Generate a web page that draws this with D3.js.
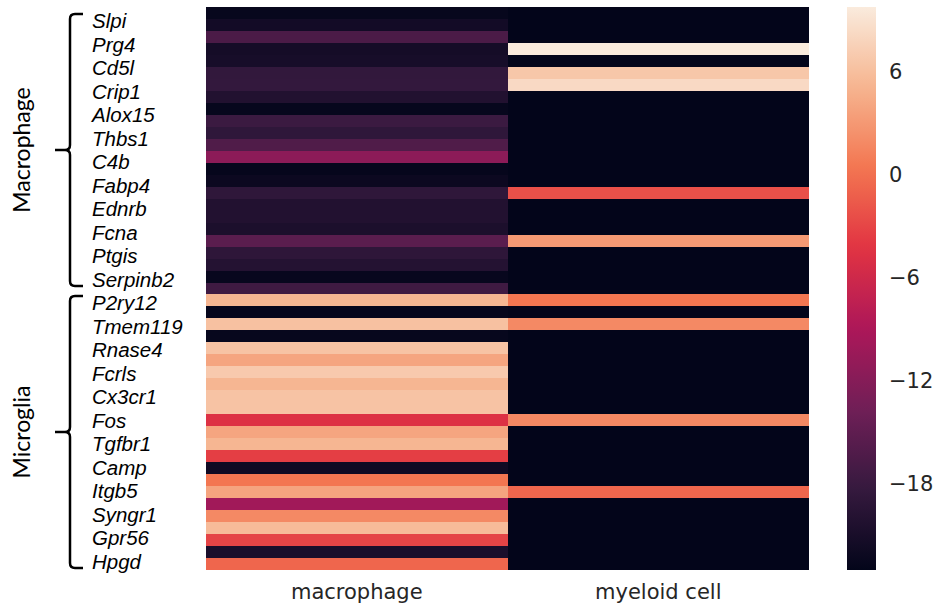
<!DOCTYPE html>
<html>
<head>
<meta charset="utf-8">
<script src="https://cdn.jsdelivr.net/npm/d3@7"></script>
<style>
  body { margin: 0; background: #ffffff; }
</style>
</head>
<body>
<svg id="chart" width="940" height="610"></svg>
<script>
// Heatmap columns
const cellTypes = ["macrophage", "myeloid cell"];

// Gene names shown on the y axis (one label for every second row)
const geneLabels = [
  "Slpi", "Prg4", "Cd5l", "Crip1", "Alox15", "Thbs1", "C4b", "Fabp4",
  "Ednrb", "Fcna", "Ptgis", "Serpinb2", "P2ry12", "Tmem119", "Rnase4", "Fcrls",
  "Cx3cr1", "Fos", "Tgfbr1", "Camp", "Itgb5", "Syngr1", "Gpr56", "Hpgd"
];

// Scores per row, macrophage column (47 rows, top to bottom)
const macrophageValues = [
  -22.6, -21.5, -16.6, -21.3, -21.1, -18.6, -18.5, -20.1,
  -22.6, -17.8, -18.9, -16.2, -11.5, -22.7, -22.2, -18.9,
  -20.1, -20.1, -20.7, -15.4, -19.0, -19.9, -22.5, -17.5,
    5.3, -22.7,   6.2, -22.6,   6.4,   4.0,   6.9,   5.3,
    6.4,   6.4,  -4.6,   4.0,   5.3,  -3.5, -21.8,   0.4,
    3.9,  -9.9,   1.9,   5.7,  -3.1, -20.8,  -0.7
];

// Scores per row, myeloid cell column (47 rows, top to bottom)
const myeloidValues = [
  -23.0, -23.0, -23.0,   9.8, -23.0,   6.7,   8.3, -23.0,
  -23.0, -23.0, -23.0, -23.0, -23.0, -23.0, -23.0,  -2.2,
  -23.0, -23.0, -23.0,   3.1, -23.0, -23.0, -23.0, -23.0,
    0.4, -23.0,   1.9, -23.0, -23.0, -23.0, -23.0, -23.0,
  -23.0, -23.0,   1.8, -23.0, -23.0, -23.0, -23.0, -23.0,
   -0.7, -23.0, -23.0, -23.0, -23.0, -23.0, -23.0
];

// Marker groups bracketed on the left
const groupNames = ["Macrophage", "Microglia"];
const groupFirstGene = ["Slpi", "P2ry12"];
const groupLastGene = ["Serpinb2", "Hpgd"];

// Colour bar ticks
const colorbarTicks = [-18, -12, -6, 0, 6];

// "rocket" colour map key points
const rocketPositions = [0, 1/7, 2/7, 3/7, 4/7, 5/7, 6/7, 1];
const rocketColors = ["#03051a", "#35193e", "#701f57", "#ad1759",
                      "#e13342", "#f37651", "#f6b48f", "#faebdd"];

const svg = d3.select("#chart");

const rocket = d3.scaleLinear()
  .domain(rocketPositions)
  .range(rocketColors)
  .interpolate(d3.interpolateRgb)
  .clamp(true);

const allValues = macrophageValues.concat(myeloidValues);
const [vmin, vmax] = d3.extent(allValues);
const norm = d3.scaleLinear().domain([vmin, vmax]).range([0, 1]).clamp(true);
const colorOf = v => rocket(norm(v));

const rows = d3.range(macrophageValues.length);
const x = d3.scaleBand().domain(cellTypes).range([206, 809]);
const y = d3.scaleBand().domain(rows).range([7, 570]);
const labelY = d3.scaleBand().domain(geneLabels).range([7, 571]);

const columns = [macrophageValues, myeloidValues];
const cells = [];
rows.forEach(r => {
  cellTypes.forEach((c, ci) => {
    cells.push({ row: r, col: c, value: columns[ci][r] });
  });
});

// Heatmap cells
svg.append("g")
  .attr("shape-rendering", "crispEdges")
  .selectAll("rect")
  .data(cells)
  .join("rect")
  .attr("x", d => x(d.col))
  .attr("y", d => y(d.row))
  .attr("width", x.bandwidth())
  .attr("height", y.bandwidth())
  .attr("fill", d => colorOf(d.value));

// Column labels
const xAxis = svg.append("g")
  .attr("transform", "translate(0,570)")
  .call(d3.axisBottom(x).tickSize(0).tickPadding(14));
xAxis.select(".domain").remove();
xAxis.selectAll("text")
  .attr("fill", "#262626")
  .style("font-family", "'DejaVu Sans', sans-serif")
  .style("font-size", "21px");

// Gene labels
svg.append("g")
  .selectAll("text")
  .data(geneLabels)
  .join("text")
  .attr("x", 92)
  .attr("y", d => labelY(d) + labelY.bandwidth() / 2 + 9.5)
  .attr("fill", "#000")
  .style("font-family", "'Liberation Sans', Arial, sans-serif")
  .style("font-style", "italic")
  .style("font-size", "20.5px")
  .text(d => d);

// Group brackets and names
const bracketX = 70, hookX = 83, tipX = 55, r = 5;
groupNames.forEach((name, i) => {
  const top = labelY(groupFirstGene[i]) + 7;
  const bottom = labelY(groupLastGene[i]) + labelY.bandwidth() - 3;
  const mid = (top + bottom) / 2;
  const p = d3.path();
  p.moveTo(hookX, top);
  p.lineTo(bracketX + r, top);
  p.quadraticCurveTo(bracketX, top, bracketX, top + r);
  p.lineTo(bracketX, mid - r);
  p.quadraticCurveTo(bracketX, mid, bracketX - r, mid);
  p.lineTo(tipX, mid);
  p.moveTo(bracketX - r, mid);
  p.quadraticCurveTo(bracketX, mid, bracketX, mid + r);
  p.lineTo(bracketX, bottom - r);
  p.quadraticCurveTo(bracketX, bottom, bracketX + r, bottom);
  p.lineTo(hookX, bottom);
  svg.append("path")
    .attr("d", p.toString())
    .attr("fill", "none")
    .attr("stroke", "#000")
    .attr("stroke-width", 2.5);
  svg.append("text")
    .attr("transform", `translate(30,${mid}) rotate(-90)`)
    .attr("text-anchor", "middle")
    .attr("fill", "#000")
    .style("font-family", "Lato, sans-serif")
    .style("font-size", "23px")
    .text(name);
});

// Colour bar
const cbX = 847, cbW = 29;
const cbScale = d3.scaleLinear().domain([vmin, vmax]).range([570, 7]);
const grad = svg.append("defs").append("linearGradient")
  .attr("id", "cbar")
  .attr("x1", 0).attr("y1", 1).attr("x2", 0).attr("y2", 0);
d3.range(0, 1.0001, 0.02).forEach(t => {
  grad.append("stop")
    .attr("offset", t)
    .attr("stop-color", rocket(t));
});
svg.append("rect")
  .attr("x", cbX)
  .attr("y", cbScale(vmax))
  .attr("width", cbW)
  .attr("height", cbScale(vmin) - cbScale(vmax))
  .attr("fill", "url(#cbar)");

const cbAxis = svg.append("g")
  .attr("transform", `translate(${cbX + cbW},0)`)
  .call(d3.axisRight(cbScale).tickValues(colorbarTicks).tickSize(0).tickPadding(13));
cbAxis.select(".domain").remove();
cbAxis.selectAll("text")
  .attr("fill", "#262626")
  .style("font-family", "'DejaVu Sans', sans-serif")
  .style("font-size", "21px");
</script>
</body>
</html>
